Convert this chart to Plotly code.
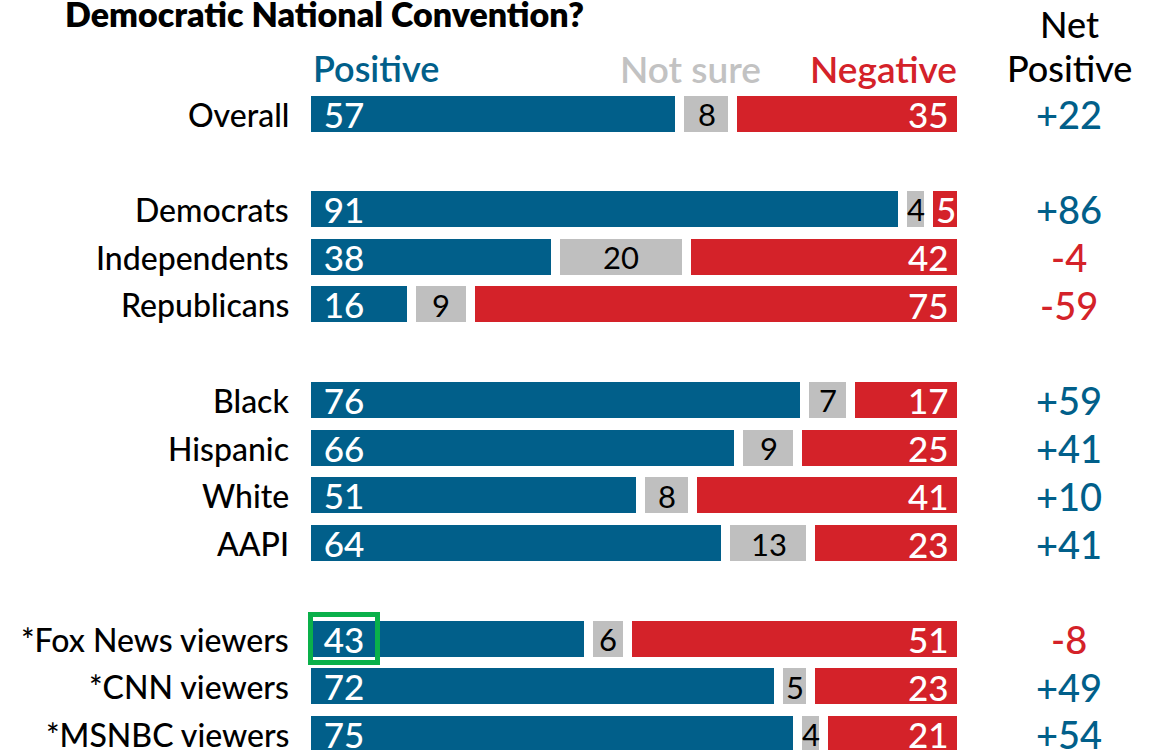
import plotly.graph_objects as go

# ---- data ----
categories = ["Overall", "Democrats", "Independents", "Republicans",
              "Black", "Hispanic", "White", "AAPI",
              "*Fox News viewers", "*CNN viewers", "*MSNBC viewers"]
group_sizes = [1, 3, 4, 3]
positive = [57, 91, 38, 16, 76, 66, 51, 64, 43, 72, 75]
not_sure = [8, 4, 20, 9, 7, 9, 8, 13, 6, 5, 4]
negative = [35, 5, 42, 75, 17, 25, 41, 23, 51, 23, 21]
net_positive = [22, 86, -4, -59, 59, 41, 10, 41, -8, 49, 54]
highlight = "*Fox News viewers"

title_text = "Democratic National Convention?"
headers = {"pos": "Positive", "ns": "Not sure", "neg": "Negative", "net1": "Net", "net2": "Positive"}

# ---- style ----
BLUE = "#015f8a"
RED = "#d42229"
GRAY = "#bfbfbf"
GRAY_TXT = "#c2c2c2"
GREEN = "#0ab04a"
FONT = "Lato"

# row positions: blank row between groups
ypos = []
idx = 0
for g in group_sizes:
    for _ in range(g):
        ypos.append(idx)
        idx += 1
    idx += 1

fig = go.Figure()
bar_w = 0.943
for vals, col in [(positive, BLUE), (not_sure, GRAY), (negative, RED)]:
    fig.add_trace(go.Bar(
        y=ypos, x=vals, orientation="h", width=bar_w,
        marker=dict(color=col, line=dict(color="white", width=9)),
        hoverinfo="skip", showlegend=False,
    ))

NET_X = 1.164
ann = []
for i, cat in enumerate(categories):
    y = ypos[i]
    # category label
    ann.append(dict(x=0, y=y, xref="x", yref="y", text=cat, showarrow=False,
                    xanchor="right", yanchor="middle", xshift=-16,
                    font=dict(family=FONT, size=32, color="black", weight=500)))
    # positive label
    hl = cat == highlight
    ann.append(dict(x=0, y=y, xref="x", yref="y", text=str(positive[i]), showarrow=False,
                    xanchor="left", yanchor="middle", xshift=1, yshift=1,
                    width=62, height=43, borderwidth=5, borderpad=0,
                    bordercolor=GREEN if hl else "rgba(0,0,0,0)", align="center", valign="middle",
                    font=dict(family=FONT, size=35, color="white", weight=500)))
    # not sure label
    ann.append(dict(x=positive[i] + not_sure[i] / 2, y=y, xref="x", yref="y",
                    text=str(not_sure[i]), showarrow=False,
                    xanchor="center", yanchor="middle",
                    font=dict(family=FONT, size=31, color="black", weight=400)))
    # negative label (centred when the segment is small)
    end = positive[i] + not_sure[i] + negative[i]
    if negative[i] < 8:
        ann.append(dict(x=end - negative[i] / 2, y=y, xref="x", yref="y",
                        text=str(negative[i]), showarrow=False,
                        xanchor="center", yanchor="middle",
                        font=dict(family=FONT, size=35, color="white", weight=500)))
    else:
        ann.append(dict(x=end, y=y, xref="x", yref="y",
                        text=str(negative[i]), showarrow=False,
                        xanchor="right", yanchor="middle", xshift=-11,
                        font=dict(family=FONT, size=35, color="white", weight=500)))
    # net positive
    n = net_positive[i]
    ann.append(dict(x=NET_X, y=y, xref="paper", yref="y",
                    text=("+" if n > 0 else "") + str(n), showarrow=False,
                    xanchor="center", yanchor="middle",
                    font=dict(family=FONT, size=38, color=BLUE if n > 0 else RED, weight=500)))

hy = (750 - 68.5) / 670
ann.append(dict(x=0, y=hy, xref="paper", yref="paper", text=headers["pos"], showarrow=False,
                xanchor="left", yanchor="middle", xshift=4,
                font=dict(family=FONT, size=36, color=BLUE, weight=600)))
ann.append(dict(x=(763 - 307) / 655, y=hy, xref="paper", yref="paper", text=headers["ns"], showarrow=False,
                xanchor="right", yanchor="middle",
                font=dict(family=FONT, size=37, color=GRAY_TXT, weight=600)))
ann.append(dict(x=1, y=hy, xref="paper", yref="paper", text=headers["neg"], showarrow=False,
                xanchor="right", yanchor="middle", xshift=-3,
                font=dict(family=FONT, size=37, color=RED, weight=600)))
ann.append(dict(x=NET_X, y=(750 - 24) / 670, xref="paper", yref="paper", text=headers["net1"], showarrow=False,
                xanchor="center", yanchor="middle",
                font=dict(family=FONT, size=36, color="black", weight=500)))
ann.append(dict(x=NET_X, y=(750 - 68) / 670, xref="paper", yref="paper", text=headers["net2"], showarrow=False,
                xanchor="center", yanchor="middle",
                font=dict(family=FONT, size=36, color="black", weight=500)))

fig.update_layout(
    width=1161, height=750,
    margin=dict(l=307, r=199, t=80, b=0),
    barmode="stack",
    bargap=0,
    plot_bgcolor="white", paper_bgcolor="white",
    title=dict(text=title_text, x=65 / 1161, xanchor="left", xref="container",
               y=1 - 15 / 750, yanchor="middle", yref="container",
               font=dict(family=FONT, size=34, color="black", weight=800)),
    xaxis=dict(range=[0, 100], visible=False, fixedrange=True),
    yaxis=dict(range=[13.325, -0.7128], visible=False, fixedrange=True),
    annotations=ann,
    hovermode=False,
)

fig.write_html("out.html", config={"displayModeBar": False})
